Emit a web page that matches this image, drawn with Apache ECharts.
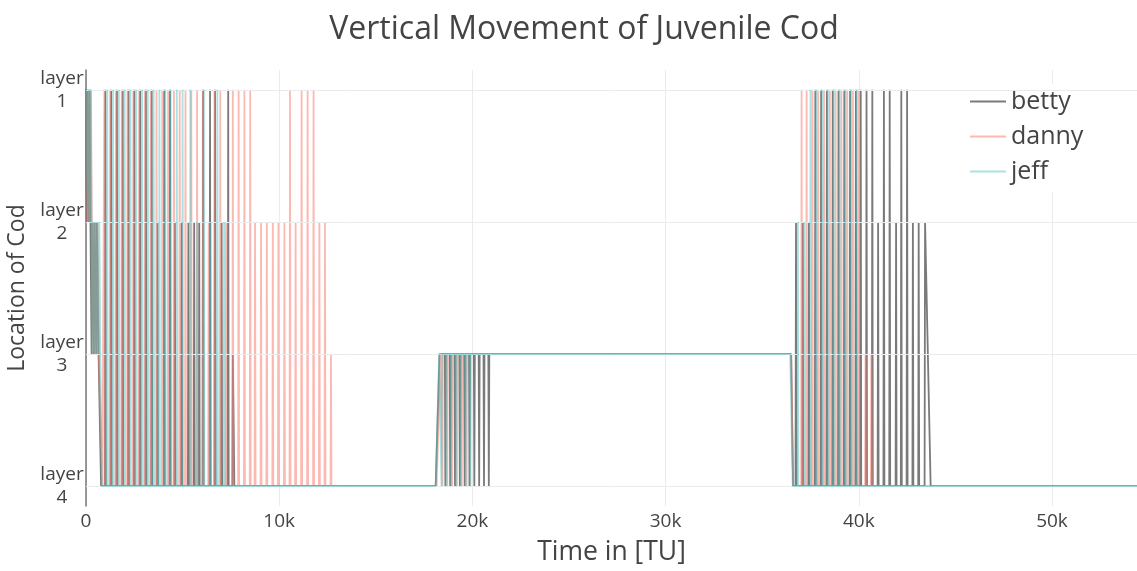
<!DOCTYPE html>
<html>
<head>
<meta charset="utf-8">
<script src="https://cdn.jsdelivr.net/npm/echarts@6/dist/echarts.min.js"></script>
<style>
html,body{margin:0;padding:0;background:#fff;}
#chart{width:1137px;height:571px;}
</style>
</head>
<body>
<div id="chart"></div>
<script>
// ---- data (time in TU, layer 1..4) ----
const seriesNames = ['betty', 'danny', 'jeff'];
const layerValues = [1, 2, 3, 4];
const layerLabels = ['layer\n1', 'layer\n2', 'layer\n3', 'layer\n4'];
const xTickValues = [0, 10000, 20000, 30000, 40000, 50000];
const xTickLabels = ['0', '10k', '20k', '30k', '40k', '50k'];

const bettyPoints = [
[0,1],[40,2],[80,1],[120,1],[150,2],[190,1],[230,2],[260,2],[290,3],[320,2],[380,2],[410,3],[440,2],[500,2],[530,3],[560,2],[620,2],[650,3],[700,3],[780,4],
[975,4],[1000,1],[1025,4],
[1275,4],[1300,1],[1325,4],
[1575,4],[1600,1],[1625,4],
[1875,4],[1900,1],[1925,4],
[2175,4],[2200,1],[2225,4],
[2475,4],[2500,1],[2525,4],
[2775,4],[2800,1],[2825,4],
[3075,4],[3100,1],[3125,4],
[3375,4],[3400,1],[3425,4],
[3675,4],[3700,2],[3725,4],
[4025,4],[4050,1],[4075,4],
[4325,4],[4350,1],[4375,4],
[4575,4],[4600,2],[4625,4],
[4925,4],[4950,2],[4975,4],
[5275,4],[5300,2],[5325,4],
[5575,4],[5600,2],[5625,4],
[5835,4],[5860,2],[5885,4],
[6035,4],[6060,1],[6085,4],
[6395,4],[6420,1],[6445,4],
[6655,4],[6680,1],[6705,4],
[6995,4],[7020,2],[7045,4],
[7335,4],[7360,1],[7385,4],
[7575,4],[7600,3],[7680,4],
[18100,4],[18300,3],
[18575,3],[18600,4],[18625,3],
[18825,3],[18850,4],[18875,3],
[19075,3],[19100,4],[19125,3],
[19325,3],[19350,4],[19375,3],
[19575,3],[19600,4],[19625,3],
[19825,3],[19850,4],[19875,3],
[20075,3],[20100,4],[20125,3],
[20325,3],[20350,4],[20375,3],
[20575,3],[20600,4],[20625,3],
[20825,3],[20850,4],[20875,3],
[36500,3],[36600,4],
[36725,4],[36750,2],[36775,4],
[37075,4],[37100,2],[37125,4],
[37395,4],[37420,2],[37445,4],
[37725,4],[37750,1],[37775,4],
[38025,4],[38050,1],[38075,4],
[38325,4],[38350,1],[38375,4],
[38625,4],[38650,1],[38675,4],
[38925,4],[38950,1],[38975,4],
[39225,4],[39250,1],[39275,4],
[39525,4],[39550,1],[39575,4],
[39825,4],[39850,1],[39875,4],
[40075,4],[40100,1],[40125,4],
[40375,4],[40400,1],[40425,4],
[40675,4],[40700,1],[40725,4],
[40975,4],[41000,2],[41025,4],
[41275,4],[41300,1],[41325,4],
[41575,4],[41600,1],[41625,4],
[41905,4],[41930,2],[41955,4],
[42175,4],[42200,1],[42225,4],
[42475,4],[42500,1],[42525,4],
[42775,4],[42800,2],[42825,4],
[43075,4],[43100,2],[43125,4],
[43405,4],[43430,2],[43720,4],
[54400,4]
];

const dannyPoints = [
[0,1],[30,2],[70,1],[130,2],[170,1],[220,2],[260,1],[300,2],[350,3],[390,2],[450,3],[490,2],[560,3],[600,2],[660,3],[720,3],[850,4],
[925,4],[950,1],[975,4],
[1225,4],[1250,1],[1275,4],
[1525,4],[1550,1],[1575,4],
[1825,4],[1850,1],[1875,4],
[2125,4],[2150,1],[2175,4],
[2425,4],[2450,1],[2475,4],
[2725,4],[2750,1],[2775,4],
[3025,4],[3050,1],[3075,4],
[3325,4],[3350,1],[3375,4],
[3625,4],[3650,1],[3675,4],
[3925,4],[3950,1],[3975,4],
[4225,4],[4250,1],[4275,4],
[4525,4],[4550,1],[4575,4],
[4825,4],[4850,1],[4875,4],
[5125,4],[5150,1],[5175,4],
[5425,4],[5450,1],[5475,4],
[5725,4],[5750,1],[5775,4],
[6025,4],[6050,1],[6075,4],
[6325,4],[6350,2],[6375,4],
[6625,4],[6650,1],[6675,4],
[6925,4],[6950,1],[6975,4],
[7225,4],[7250,2],[7275,4],
[7575,4],[7600,1],[7625,4],
[7875,4],[7900,1],[7925,4],
[8175,4],[8200,1],[8225,4],
[8475,4],[8500,1],[8525,4],
[8725,4],[8750,2],[8775,4],
[9035,4],[9060,2],[9085,4],
[9335,4],[9360,2],[9385,4],
[9645,4],[9670,2],[9695,4],
[9935,4],[9960,2],[9985,4],
[10245,4],[10270,2],[10295,4],
[10535,4],[10560,1],[10585,4],
[10825,4],[10850,2],[10875,4],
[11135,4],[11160,1],[11185,4],
[11445,4],[11470,1],[11495,4],
[11755,4],[11780,1],[11805,4],
[12055,4],[12080,2],[12105,4],
[12345,4],[12370,2],[12395,4],
[12655,4],[12680,3],[12705,4],
[18150,4],[18350,3],
[18425,3],[18450,4],[18475,3],
[18675,3],[18700,4],[18725,3],
[18925,3],[18950,4],[18975,3],
[19175,3],[19200,4],[19225,3],
[19425,3],[19450,4],[19475,3],
[19675,3],[19700,4],[19725,3],
[36500,3],[36600,4],
[37015,4],[37040,1],[37065,4],
[37275,4],[37300,1],[37325,4],
[37575,4],[37600,1],[37625,4],
[37875,4],[37900,1],[37925,4],
[38175,4],[38200,1],[38225,4],
[38475,4],[38500,1],[38525,4],
[38775,4],[38800,1],[38825,4],
[39075,4],[39100,1],[39125,4],
[39375,4],[39400,1],[39425,4],
[39675,4],[39700,1],[39725,4],
[39975,4],[40000,1],[40025,4],
[40325,4],[40350,3],[40375,4],
[40625,4],[40650,3],[40675,4],
[54400,4]
];

const jeffPoints = [
[0,1],[90,2],[130,1],[200,2],[240,1],[290,2],[330,3],[370,2],[430,3],[470,2],[540,3],[580,2],[640,3],[690,2],[740,3],[820,4],
[1075,4],[1100,1],[1125,4],
[1375,4],[1400,1],[1425,4],
[1675,4],[1700,1],[1725,4],
[1975,4],[2000,1],[2025,4],
[2275,4],[2300,1],[2325,4],
[2575,4],[2600,1],[2625,4],
[2875,4],[2900,1],[2925,4],
[3175,4],[3200,1],[3225,4],
[3475,4],[3500,1],[3525,4],
[3775,4],[3800,1],[3825,4],
[4075,4],[4100,1],[4125,4],
[4355,4],[4380,1],[4405,4],
[4675,4],[4700,1],[4725,4],
[4975,4],[5000,1],[5025,4],
[5375,4],[5400,1],[5425,4],
[5725,4],[5750,2],[5775,4],
[6075,4],[6100,1],[6125,4],
[6425,4],[6450,2],[6475,4],
[6775,4],[6800,1],[6825,4],
[7125,4],[7150,2],[7175,4],
[18100,4],[18280,3],
[18375,3],[18400,4],[18425,3],
[18625,3],[18650,4],[18675,3],
[18875,3],[18900,4],[18925,3],
[19125,3],[19150,4],[19175,3],
[19375,3],[19400,4],[19425,3],
[19625,3],[19650,4],[19675,3],
[19875,3],[19900,4],[19925,3],
[36450,3],[36580,4],
[36825,4],[36850,2],[36875,4],
[37155,4],[37180,2],[37205,4],
[37475,4],[37500,1],[37525,4],
[37775,4],[37800,1],[37825,4],
[38075,4],[38100,1],[38125,4],
[38375,4],[38400,1],[38425,4],
[38675,4],[38700,1],[38725,4],
[38975,4],[39000,1],[39025,4],
[39275,4],[39300,1],[39325,4],
[39575,4],[39600,1],[39625,4],
[39875,4],[39900,1],[39925,4],
[54400,4]
];

const seriesColors = ['rgba(0,0,0,0.52)', 'rgba(250,128,114,0.55)', 'rgba(64,190,190,0.45)'];
const seriesPoints = [bettyPoints, dannyPoints, jeffPoints];

const FONT = '"Open Sans", "Noto Sans", sans-serif';
const chart = echarts.init(document.getElementById('chart'), null, {renderer: 'canvas'});

const series = seriesNames.map((name, i) => ({
  name: name,
  type: 'line',
  data: seriesPoints[i],
  symbol: 'none',
  showSymbol: false,
  lineStyle: {color: seriesColors[i], width: 1.8},
  itemStyle: {color: seriesColors[i]},
  z: 3 + i
}));
series.unshift({
  name: '_grid',
  type: 'line',
  data: [],
  z: 1,
  silent: true,
  markLine: {
    silent: true,
    symbol: 'none',
    label: {show: false},
    animation: false,
    lineStyle: {color: '#ebebeb', type: 'solid', width: 1},
    data: layerValues.map(v => ({yAxis: v}))
  }
});

chart.setOption({
  animation: false,
  backgroundColor: '#fff',
  textStyle: {fontFamily: FONT},
  title: {
    text: 'Vertical Movement of Juvenile Cod',
    left: 579, top: 9, textAlign: 'center',
    textStyle: {fontFamily: FONT, fontSize: 32, fontWeight: 'normal', color: '#444'}
  },
  legend: {
    data: seriesNames,
    orient: 'vertical',
    left: 966, top: 84,
    itemWidth: 36, itemHeight: 2,
    itemGap: 6,
    padding: [3, 10, 6, 4],
    backgroundColor: '#fff',
    icon: 'rect',
    textStyle: {fontFamily: FONT, fontSize: 25, color: '#444', lineHeight: 29}
  },
  grid: {left: 86, right: 0, top: 70, bottom: 65, containLabel: false, outerBoundsMode: 'none'},
  xAxis: {
    type: 'value',
    min: 0, max: 54400, interval: 10000,
    name: 'Time in [TU]',
    nameLocation: 'middle',
    nameGap: 33,
    nameTextStyle: {fontFamily: FONT, fontSize: 26.5, color: '#444', verticalAlign: 'top'},
    axisLine: {show: false},
    axisTick: {show: false},
    axisLabel: {
      fontFamily: FONT, fontSize: 19, color: '#444', margin: 6,
      showMaxLabel: false,
      formatter: v => { const k = xTickValues.indexOf(v); return k >= 0 ? xTickLabels[k] : ''; }
    },
    splitLine: {show: true, lineStyle: {color: '#ebebeb', width: 1}}
  },
  yAxis: {
    type: 'value',
    inverse: true,
    min: 0.85, max: 4.15, interval: 0.05,
    name: 'Location of Cod',
    nameLocation: 'middle',
    nameGap: 46,
    nameTextStyle: {fontFamily: FONT, fontSize: 23, color: '#444'},
    axisLine: {show: true, lineStyle: {color: '#777', width: 1.5}},
    axisTick: {show: false},
    splitLine: {show: false},
    axisLabel: {
      fontFamily: FONT, fontSize: 19, color: '#444', margin: 24, align: 'center', lineHeight: 23,
      formatter: v => {
        const r = Math.round(v);
        if (Math.abs(v - r) > 1e-6) return '';
        const k = layerValues.indexOf(r);
        return k >= 0 ? layerLabels[k] : '';
      }
    }
  },
  series: series
});
</script>
</body>
</html>
